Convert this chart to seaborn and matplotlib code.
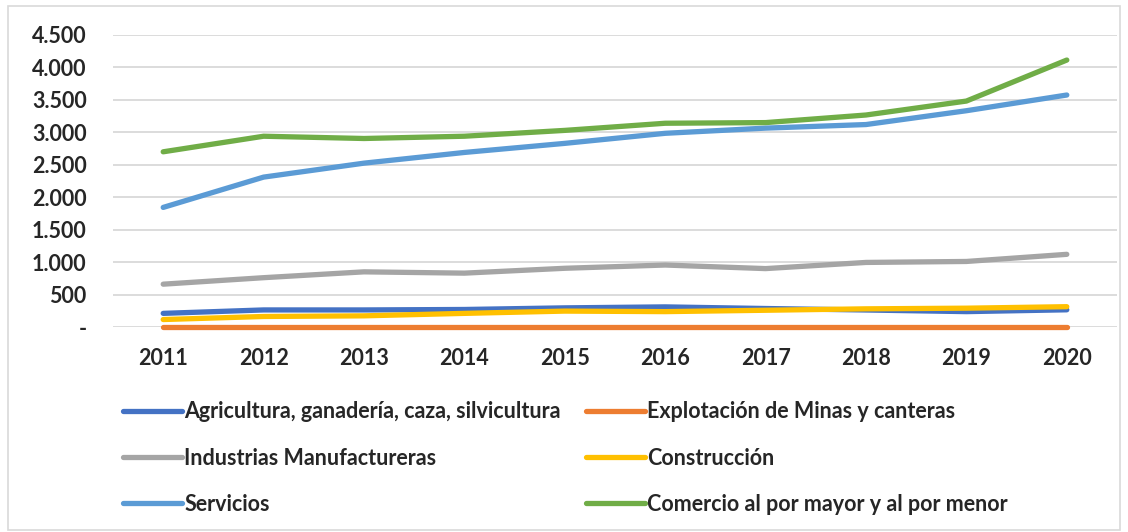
import numpy as np
import pandas as pd
import matplotlib.pyplot as plt
import matplotlib.patches as patches
import seaborn as sns

# datos
anios = ["2011", "2012", "2013", "2014", "2015", "2016", "2017", "2018", "2019", "2020"]
agricultura = [210, 263, 263, 270, 295, 310, 285, 262, 237, 265]
minas = [5, 5, 5, 5, 5, 5, 5, 5, 5, 5]
industrias = [660, 760, 850, 830, 905, 955, 900, 995, 1010, 1120]
construccion = [115, 162, 172, 210, 245, 237, 258, 280, 290, 313]
servicios = [1843, 2310, 2525, 2690, 2830, 2985, 3065, 3120, 3333, 3575]
comercio = [2700, 2940, 2905, 2940, 3030, 3140, 3150, 3267, 3482, 4114]

series = [
    ("Agricultura, ganadería, caza, silvicultura", agricultura, "#4472C4"),
    ("Explotación de Minas y canteras", minas, "#ED7D31"),
    ("Industrias Manufactureras", industrias, "#A5A5A5"),
    ("Construcción", construccion, "#FFC000"),
    ("Servicios", servicios, "#5B9BD5"),
    ("Comercio al por mayor y al por menor", comercio, "#70AD47"),
]

y_ticks = [0, 500, 1000, 1500, 2000, 2500, 3000, 3500, 4000, 4500]
y_labels = ["-", "500", "1.000", "1.500", "2.000", "2.500", "3.000", "3.500", "4.000", "4.500"]

sns.set_theme(style="white")
plt.rcParams['font.family'] = ['Lato', 'DejaVu Sans']
plt.rcParams['font.weight'] = 'bold'

fig = plt.figure(figsize=(11.28, 5.32), dpi=100)
ax = fig.add_axes([113 / 1128, 1 - 327 / 532, (1117 - 113) / 1128, (327 - 35) / 532])

x = np.arange(len(anios))
for nombre, valores, color in series:
    sns.lineplot(x=x, y=valores, ax=ax, color=color, linewidth=3.8, label=nombre,
                 solid_capstyle='round', clip_on=False)

ax.set_xlim(-0.5, len(anios) - 0.5)
ax.set_ylim(0, 4500)
ax.set_xticks(x)
ax.set_xticklabels(anios, fontsize=15.5, fontweight='bold')
ax.set_yticks(y_ticks)
ax.set_yticklabels(y_labels, fontsize=15.5, fontweight='bold')
ax.tick_params(axis='y', pad=19, length=0)
ax.tick_params(axis='x', pad=15, length=0)
ax.grid(axis='y', color='#D9D9D9', linewidth=1.3)
ax.set_axisbelow(True)
sns.despine(ax=ax, left=True, bottom=True)

# leyenda en filas (reordenada para ncol=2)
handles, labels = ax.get_legend_handles_labels()
orden = [0, 2, 4, 1, 3, 5]
ax.get_legend().remove()
fig.legend([handles[i] for i in orden], [labels[i] for i in orden],
           loc='upper left', bbox_to_anchor=(104 / 1128, 1 - 382 / 532), ncol=2,
           frameon=False, handlelength=2.7, handletextpad=0.12,
           columnspacing=1.2, labelspacing=1.17, prop={'weight': 'bold', 'size': 15.5})

# borde del gráfico
fig.patches.append(patches.Rectangle((8 / 1128, 2 / 532), 1112 / 1128, 524 / 532,
                                     transform=fig.transFigure, fill=False,
                                     edgecolor='#D9D9D9', linewidth=1.2))

plt.savefig("out.png", dpi=100)
